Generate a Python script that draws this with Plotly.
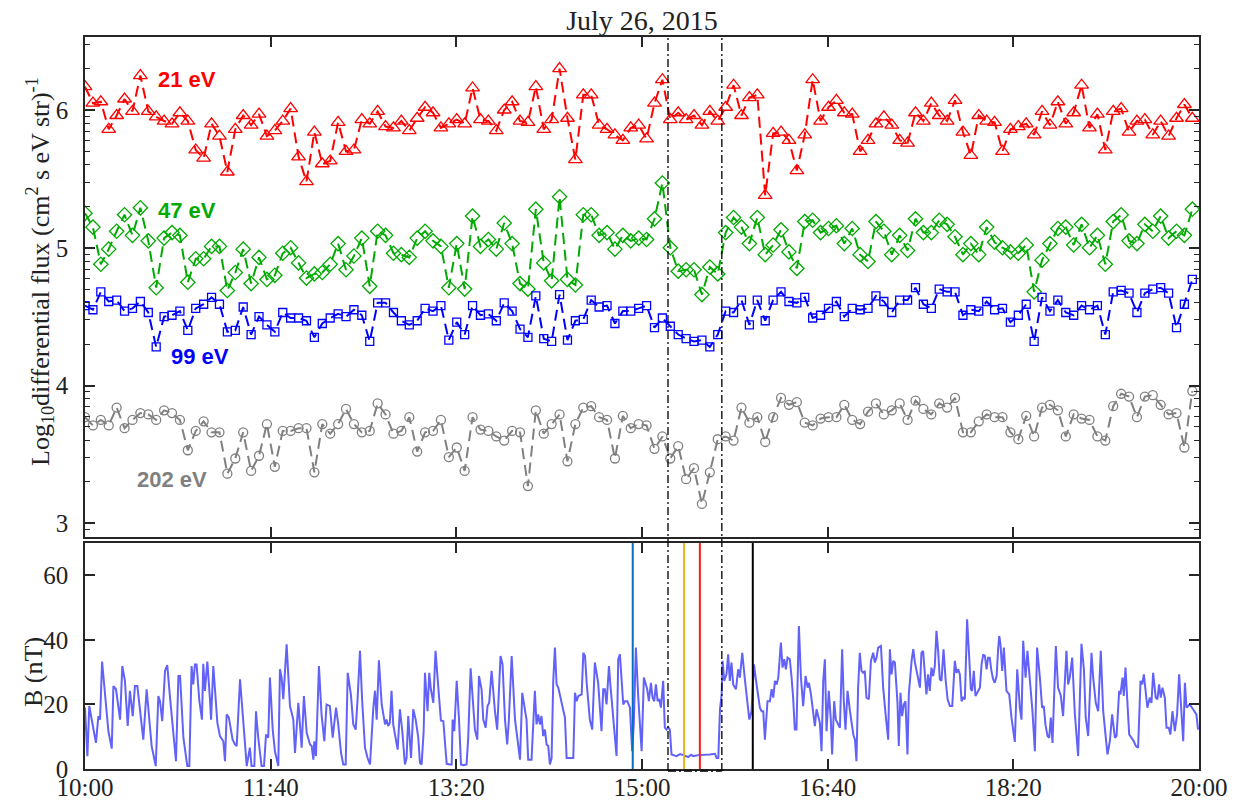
import numpy as np
import pandas as pd
import plotly.graph_objects as go
from plotly.subplots import make_subplots

DAY = "2015-07-26"
T0 = pd.Timestamp(f"{DAY} 10:00")

# ---------------- data ----------------
flux_step_min = 4.26  # sampling cadence of the electron spectra (minutes)

flux_21eV = [
    6.17, 6.05, 6.06, 5.86, 5.96, 6.08, 5.99, 6.25, 5.99, 5.95, 5.92, 5.90, 5.98, 5.92, 5.71, 5.65, 5.90, 5.81, 5.55, 5.86,
    5.96, 5.89, 5.97, 5.81, 5.85, 5.92, 6.01, 5.66, 5.48,
    5.84, 5.61, 5.63, 5.91, 5.70, 5.71, 5.93, 5.90, 5.99, 5.88, 5.87, 5.92, 5.85, 5.94, 6.02, 5.98, 5.87, 5.90, 5.93, 5.90,
    6.16, 5.93, 5.92, 5.85, 6.00, 6.06, 5.92, 5.91, 6.17,
    5.86, 5.93, 6.30, 5.94, 5.64, 6.11, 6.11, 5.89, 5.86, 5.82, 5.78, 5.87, 5.89, 5.79, 6.05, 6.22, 5.93, 5.98, 5.93, 5.96,
    5.89, 5.99, 5.92, 6.02, 6.18, 5.96, 6.09, 6.11,
    5.38, 5.83, 5.84, 5.78, 5.56, 5.82, 6.22, 5.92, 6.02, 6.07, 5.98, 5.97, 5.70, 5.78, 5.90, 5.95, 5.89, 5.78, 5.76, 5.98,
    5.92, 6.05, 5.96, 5.92, 6.07, 5.84, 5.67, 5.96,
    5.92, 5.91, 5.70, 5.86, 5.88, 5.90, 5.82, 5.99, 5.89, 6.06, 5.90, 5.98, 6.18, 5.87, 5.97, 5.71, 5.99, 6.01, 5.84, 5.92,
    5.93, 5.82, 5.92, 5.81, 5.94, 6.04, 5.94,
]
flux_47eV = [
    5.25, 5.15, 4.88, 4.99, 5.12, 5.24, 5.09, 5.29, 5.05, 4.71, 5.07, 5.11, 5.09, 4.75, 4.92, 4.92, 5.01, 5.01, 4.69, 4.82,
    4.99, 4.74, 4.93, 4.77, 4.80, 4.96, 5.00, 4.89, 4.78,
    4.81, 4.82, 4.88, 5.03, 4.84, 4.94, 5.07, 4.72, 5.12, 5.09, 4.96, 4.95, 4.93, 5.07, 5.12, 5.05, 5.01, 4.71, 5.03, 4.70,
    5.23, 5.01, 5.06, 4.99, 5.18, 5.03, 4.74, 4.70, 5.28,
    4.89, 4.76, 5.37, 4.77, 4.73, 5.24, 5.24, 5.09, 5.11, 4.99, 5.09, 5.05, 5.07, 5.06, 5.21, 5.47, 5.00, 4.83, 4.84, 4.84,
    4.66, 4.86, 4.81, 5.11, 5.22, 5.15, 5.03, 5.22,
    4.95, 5.02, 5.13, 4.97, 4.85, 5.19, 5.20, 5.11, 5.14, 5.16, 5.03, 5.14, 4.95, 4.90, 5.19, 5.12, 4.95, 5.09, 4.98, 5.21,
    5.11, 5.11, 5.20, 5.17, 5.08, 4.95, 5.03, 4.95,
    5.15, 5.04, 5.00, 4.97, 4.96, 5.02, 4.68, 4.91, 5.03, 5.14, 5.15, 5.02, 5.17, 5.00, 5.09, 4.88, 5.19, 5.24, 5.05, 5.03,
    5.17, 5.12, 5.23, 5.07, 5.12, 5.09, 5.28,
]
flux_99eV = [
    4.58, 4.55, 4.68, 4.61, 4.62, 4.54, 4.56, 4.61, 4.53, 4.28, 4.50, 4.51, 4.54, 4.40, 4.56, 4.59, 4.64, 4.59, 4.39, 4.40,
    4.57, 4.37, 4.50, 4.44, 4.39, 4.53, 4.49, 4.49, 4.47,
    4.35, 4.45, 4.49, 4.52, 4.50, 4.55, 4.51, 4.32, 4.60, 4.60, 4.53, 4.47, 4.44, 4.47, 4.56, 4.54, 4.58, 4.33, 4.46, 4.37,
    4.58, 4.51, 4.52, 4.47, 4.60, 4.54, 4.41, 4.35, 4.65,
    4.34, 4.32, 4.66, 4.33, 4.47, 4.48, 4.62, 4.57, 4.58, 4.45, 4.54, 4.54, 4.56, 4.58, 4.42, 4.49, 4.43, 4.37, 4.34, 4.32,
    4.33, 4.28, 4.37, 4.54, 4.53, 4.62, 4.44, 4.62,
    4.47, 4.62, 4.68, 4.61, 4.60, 4.64, 4.49, 4.51, 4.56, 4.61, 4.50, 4.56, 4.55, 4.56, 4.65, 4.61, 4.53, 4.62, 4.62, 4.71,
    4.59, 4.56, 4.70, 4.68, 4.68, 4.51, 4.55, 4.54,
    4.61, 4.55, 4.56, 4.46, 4.51, 4.59, 4.32, 4.64, 4.54, 4.62, 4.53, 4.51, 4.58, 4.55, 4.58, 4.37, 4.68, 4.69, 4.67, 4.53,
    4.67, 4.70, 4.71, 4.67, 4.42, 4.59, 4.77,
]
flux_202eV = [
    3.77, 3.71, 3.75, 3.71, 3.84, 3.69, 3.75, 3.80, 3.79, 3.75, 3.82, 3.80, 3.75, 3.53, 3.67, 3.74, 3.66, 3.66, 3.36, 3.47,
    3.66, 3.38, 3.49, 3.72, 3.41, 3.67, 3.67, 3.69, 3.69,
    3.37, 3.72, 3.65, 3.72, 3.83, 3.72, 3.66, 3.67, 3.87, 3.79, 3.65, 3.67, 3.77, 3.52, 3.66, 3.67, 3.75, 3.48, 3.55, 3.38,
    3.77, 3.68, 3.67, 3.63, 3.60, 3.67, 3.66, 3.27, 3.82,
    3.65, 3.72, 3.79, 3.45, 3.72, 3.84, 3.85, 3.77, 3.75, 3.47, 3.78, 3.69, 3.72, 3.71, 3.54, 3.63, 3.47, 3.56, 3.32, 3.40,
    3.14, 3.37, 3.61, 3.63, 3.60, 3.84, 3.73, 3.77,
    3.59, 3.77, 3.91, 3.86, 3.88, 3.73, 3.71, 3.76, 3.77, 3.77, 3.86, 3.75, 3.72, 3.81, 3.87, 3.79, 3.82, 3.87, 3.75, 3.89,
    3.83, 3.79, 3.87, 3.84, 3.91, 3.66, 3.66, 3.74,
    3.79, 3.77, 3.77, 3.66, 3.61, 3.78, 3.63, 3.84, 3.86, 3.82, 3.63, 3.79, 3.76, 3.75, 3.63, 3.60, 3.85, 3.94, 3.92, 3.77,
    3.92, 3.93, 3.86, 3.79, 3.80, 3.55, 3.96,
]

# magnetic field magnitude: (minutes after 10:00, B in nT)
b_samples = [
    (0.0, 19.0), (1.3, 4.0), (2.3, 19.5), (3.6, 15.3), (5.9, 8.1), (7.2, 16.4), (8.1, 15.3), (9.2, 33.3), (10.8, 22.1),
    (12.6, 11.7), (14.4, 6.3), (15.3, 25.7), (16.7, 24.7), (18.0, 17.9), (18.9, 15.3), (20.1, 31.9), (21.5, 27.3),
    (23.0, 13.3), (24.2, 24.2), (25.7, 16.4), (26.9, 25.7), (28.2, 25.7), (29.6, 19.0), (31.4, 9.1), (33.2, 24.7),
    (35.9, 7.1), (38.1, 0.9), (39.5, 22.6), (40.4, 21.0), (41.6, 14.8), (43.1, 30.4), (44.3, 32.2), (45.8, 22.1),
    (49.0, 2.4), (50.3, 28.8), (51.2, 28.8), (53.0, 9.7), (55.1, 0.9), (56.2, 0.9), (57.4, 31.9), (58.3, 26.2),
    (59.2, 32.4), (60.1, 32.4), (61.6, 21.0), (63.0, 15.3), (63.7, 32.6), (64.6, 24.2), (65.9, 33.3), (67.3, 21.6),
    (67.9, 15.3), (69.1, 31.9), (71.3, 14.3), (72.7, 10.2), (74.5, 8.6), (75.4, 2.4), (76.3, 16.9), (77.5, 15.9),
    (79.5, 9.1), (80.8, 7.6), (81.7, 7.1), (83.5, 27.8), (85.3, 12.8), (87.1, 0.9), (88.8, 6.6), (89.7, 0.9),
    (91.2, 0.9), (92.1, 17.9), (93.3, 9.7), (95.1, 0.9), (96.4, 0.9), (97.5, 10.7), (98.7, 9.7), (99.6, 28.3),
    (101.1, 12.2), (102.3, 5.5), (104.1, 0.9), (105.0, 30.9), (105.9, 28.3), (106.8, 21.6), (108.6, 38.6),
    (110.4, 19.5), (112.2, 15.3), (113.1, 5.0), (114.9, 20.5), (116.7, 6.6), (117.9, 22.6), (119.4, 11.2),
    (121.2, 7.6), (122.1, 7.1), (123.0, 2.9), (123.5, 8.6), (124.4, 4.0), (126.0, 31.9), (127.4, 16.9), (128.9, 8.6),
    (130.1, 20.0), (131.9, 19.5), (133.4, 9.7), (135.2, 19.0), (136.4, 13.8), (137.9, 5.0), (139.1, 1.4), (140.4, 1.4),
    (141.5, 29.8), (143.2, 23.1), (144.5, 13.8), (145.8, 12.2), (146.8, 21.6), (148.1, 36.6), (149.3, 21.0),
    (150.8, 6.6), (152.2, 3.4), (153.5, 1.4), (155.3, 19.0), (156.2, 24.2), (157.1, 15.3), (158.3, 33.7), (159.8, 20.0),
    (161.6, 13.8), (162.4, 15.3), (163.3, 13.3), (164.2, 14.3), (165.1, 24.2), (166.0, 13.8), (167.3, 9.1),
    (168.4, 6.0), (169.6, 18.5), (170.9, 11.7), (172.3, 1.4), (173.2, 3.4), (174.1, 16.4), (175.6, 3.4), (176.8, 18.5),
    (178.1, 15.3), (179.5, 9.7), (180.4, 1.9), (181.3, 1.4), (182.4, 11.7), (183.1, 29.8), (184.5, 17.9), (185.4, 29.8),
    (186.3, 24.7), (187.6, 20.5), (188.8, 36.6), (190.3, 25.2), (191.7, 15.0), (193.0, 14.8), (193.9, 8.6), (194.8, 1.6),
    (196.6, 1.4), (197.5, 1.4), (198.0, 15.3), (198.9, 11.7), (200.2, 27.3), (201.4, 15.9), (202.5, 1.4), (203.7, 1.2),
    (205.5, 1.4), (206.4, 9.7), (207.7, 31.2), (209.1, 17.9), (210.0, 12.2), (211.3, 9.1), (212.2, 28.8), (213.6, 24.7),
    (214.5, 15.3), (215.8, 12.8), (216.8, 19.5), (217.7, 20.5), (219.0, 30.4), (220.8, 17.9), (222.0, 12.2),
    (223.8, 35.0), (224.9, 32.4), (226.2, 15.3), (227.4, 7.6), (228.3, 15.3), (229.8, 35.0), (231.6, 15.3), (233.4, 7.1),
    (234.3, 2.9), (235.5, 23.6), (237.0, 18.5), (237.8, 15.3), (238.7, 2.9), (240.5, 2.9), (242.3, 24.2),
    (243.2, 13.8), (244.1, 16.9), (245.0, 13.8), (245.9, 16.4), (246.8, 10.2), (247.7, 12.2), (248.6, 7.6), (249.5, 7.1),
    (250.4, 1.4), (251.3, 3.4), (252.2, 27.3), (253.1, 37.6), (254.0, 26.2), (254.9, 25.2), (256.7, 20.0), (258.5, 15.9),
    (259.4, 3.4), (261.2, 3.4), (263.0, 3.4), (263.9, 23.6), (264.8, 21.0), (265.7, 22.6), (267.5, 23.1), (268.4, 36.0),
    (269.3, 35.0), (270.2, 26.7), (271.1, 20.0), (271.9, 15.3), (273.2, 12.2), (274.6, 33.0), (276.4, 26.7),
    (277.3, 17.9), (278.2, 11.7), (279.1, 24.7), (280.0, 24.7), (280.9, 20.0), (282.2, 31.9), (283.1, 25.2),
    (284.5, 15.9), (286.3, 4.0), (287.2, 34.0), (288.1, 35.5), (289.0, 27.8), (289.9, 20.0), (290.8, 21.0), (292.1, 21.0),
    (293.5, 19.0), (294.7, 5.5), (295.6, 14.3), (296.7, 37.6), (298.0, 22.1), (299.8, 5.5), (301.0, 28.3), (302.1, 26.2),
    (302.8, 24.7), (303.7, 21.0), (304.8, 26.7), (305.7, 22.1), (306.6, 21.0), (307.5, 26.2), (308.4, 21.0),
    (309.3, 21.6), (310.2, 19.0), (311.4, 27.3), (312.3, 12.8), (313.2, 12.2), (314.1, 13.0), (315.0, 12.2),
    (315.9, 4.5), (318.6, 4.0), (320.5, 4.6), (322.2, 4.3), (324.9, 3.7), (326.5, 4.4), (327.6, 4.0), (330.3, 4.3),
    (333.0, 4.3), (336.6, 4.5), (339.3, 4.7), (340.2, 3.4), (341.1, 3.4), (342.0, 18.5), (342.9, 23.1), (343.4, 33.5),
    (344.3, 27.3), (345.5, 29.3), (346.4, 35.5), (347.3, 27.3), (348.2, 33.0), (349.1, 26.2), (350.6, 24.7),
    (351.8, 30.9), (352.7, 28.3), (354.0, 36.0), (355.4, 27.8), (356.7, 21.0), (357.8, 15.3), (359.0, 17.9),
    (360.3, 32.4), (361.7, 26.2), (363.5, 19.0), (364.4, 17.9), (365.3, 17.9), (366.2, 9.1), (367.6, 21.0),
    (368.9, 21.0), (369.8, 24.7), (370.7, 22.1), (371.6, 27.3), (372.5, 26.2), (373.4, 28.3), (374.8, 39.2),
    (375.7, 31.4), (376.6, 34.0), (377.5, 30.9), (378.4, 34.5), (379.6, 34.0), (380.5, 28.8), (381.4, 22.1),
    (382.3, 12.2), (383.2, 12.2), (384.5, 44.3), (385.6, 28.3), (386.8, 19.5), (388.1, 28.8), (389.2, 25.2),
    (389.9, 26.7), (391.0, 23.1), (392.2, 17.9), (393.1, 13.3), (394.0, 18.5), (394.9, 15.9), (395.8, 14.3),
    (396.7, 5.5), (397.6, 27.3), (398.5, 34.0), (399.4, 11.7), (400.6, 24.2), (401.7, 15.3), (402.4, 4.5),
    (403.5, 21.0), (404.4, 15.3), (405.7, 13.8), (406.6, 12.8), (407.8, 37.1), (408.7, 21.0), (409.6, 12.2),
    (410.7, 24.2), (412.0, 17.9), (413.8, 10.7), (414.7, 9.1), (415.5, 2.4), (416.4, 25.2), (417.3, 36.0),
    (418.2, 30.4), (419.1, 29.8), (420.0, 30.4), (420.9, 22.1), (422.2, 21.6), (423.3, 33.5), (424.5, 36.0),
    (425.4, 33.0), (426.3, 34.5), (427.2, 37.6), (428.7, 38.1), (429.9, 25.2), (431.2, 16.9), (432.6, 9.1),
    (433.5, 37.1), (434.4, 29.3), (435.3, 33.5), (436.2, 33.0), (437.6, 20.5), (438.3, 7.1), (439.2, 23.6),
    (440.1, 16.4), (441.0, 20.0), (441.9, 21.0), (443.0, 4.5), (443.7, 23.1), (445.2, 33.5), (446.1, 37.1),
    (447.0, 33.0), (448.4, 29.3), (449.7, 25.2), (450.5, 36.0), (451.4, 36.6), (452.3, 29.8), (453.2, 23.1),
    (454.1, 29.3), (455.0, 24.2), (455.9, 31.4), (456.8, 28.8), (457.7, 31.9), (458.6, 42.8), (459.5, 36.6),
    (460.4, 27.8), (461.3, 27.3), (462.4, 37.1), (463.5, 27.8), (464.6, 21.6), (465.8, 19.5), (467.1, 19.5),
    (468.5, 33.5), (469.4, 29.8), (470.3, 30.9), (471.2, 29.3), (472.1, 21.0), (473.0, 22.1), (473.9, 21.6),
    (475.1, 46.4), (476.2, 35.0), (477.1, 24.7), (477.8, 24.2), (478.7, 30.4), (479.6, 22.6), (482.0, 25.2),
    (482.9, 32.4), (483.8, 35.5), (484.7, 35.0), (485.6, 30.9), (486.4, 34.5), (487.3, 34.5), (488.2, 30.4),
    (489.1, 27.8), (490.0, 26.7), (491.0, 28.8), (491.8, 37.1), (492.4, 41.2), (493.1, 38.6), (494.0, 30.4),
    (494.9, 37.6), (496.3, 24.2), (497.8, 23.1), (499.0, 15.9), (500.8, 8.4), (502.1, 30.9), (503.5, 19.0),
    (504.4, 15.3), (505.3, 39.7), (506.6, 28.3), (507.6, 36.6), (508.9, 28.3), (510.3, 17.9), (511.6, 5.5),
    (512.8, 37.6), (514.3, 28.3), (515.5, 19.0), (516.4, 19.5), (517.3, 13.8), (518.4, 10.2), (519.3, 9.7),
    (520.2, 15.9), (521.1, 8.1), (522.9, 38.1), (524.1, 25.2), (525.6, 22.6), (526.8, 16.4), (528.6, 36.6),
    (529.5, 26.2), (530.4, 28.3), (531.7, 34.5), (533.1, 17.4), (534.9, 4.0), (536.7, 38.8), (538.0, 30.9),
    (539.0, 15.9), (540.3, 10.2), (542.1, 36.0), (543.0, 28.3), (544.4, 20.5), (545.7, 17.9), (547.1, 36.6),
    (548.4, 17.9), (549.8, 9.7), (550.7, 4.5), (552.0, 8.6), (553.2, 16.9), (554.7, 9.7), (555.6, 10.2),
    (557.0, 24.2), (557.7, 23.1), (558.8, 28.3), (559.5, 22.6), (560.4, 31.4), (561.3, 23.6), (562.4, 10.7),
    (563.6, 9.7), (564.9, 8.6), (566.0, 7.1), (567.2, 6.6), (568.5, 27.3), (569.4, 26.2), (570.3, 29.3),
    (571.2, 23.1), (572.2, 19.0), (573.5, 22.1), (574.4, 20.5), (575.3, 29.8), (576.7, 22.1), (577.6, 21.6),
    (578.5, 26.2), (579.4, 22.1), (580.3, 25.2), (581.6, 22.1), (582.5, 12.8), (583.7, 12.8), (584.6, 10.7),
    (585.7, 17.9), (587.0, 11.7), (588.2, 16.9), (589.3, 29.3), (590.6, 16.9), (591.5, 8.6), (592.4, 26.7),
    (593.3, 19.0), (594.1, 19.5), (595.0, 20.0), (596.8, 18.5), (598.6, 16.9), (599.5, 12.2),
]

x_tick_labels = ["10:00", "11:40", "13:20", "15:00", "16:40", "18:20", "20:00"]
flux_ticks = [3, 4, 5, 6]
b_ticks = [0, 20, 40, 60]

cavity_bounds = ["15:14:00", "15:43:00"]
event_lines = [("14:55:00", "#0072BD"), ("15:22:40", "#EDB120"), ("15:31:10", "#FF1A1A"), ("15:59:40", "#000000")]

series = [
    ("21 eV", flux_21eV, "#FF0000", "triangle-up-open", 12, 54.9, 6.22),
    ("47 eV", flux_47eV, "#00AA00", "diamond-open", 11, 54.9, 5.27),
    ("99 eV", flux_99eV, "#0000FF", "square-open", 8, 62.0, 4.21),
    ("202 eV", flux_202eV, "#808080", "circle-open", 9, 46.8, 3.32),
]

flux_title = "Log<sub>10</sub>differential flux (cm<sup>2</sup> s eV str)<sup>-1</sup>"
b_title = "B (nT)"

# ---------------- figure ----------------
W, H = 1237, 806
ML, MR, MT, MB = 85, 38, 37, 37
PW, PH = W - ML - MR, H - MT - MB

n = len(flux_21eV)
assert all(len(s[1]) == n for s in series)
flux_times = T0 + pd.to_timedelta(np.arange(n) * flux_step_min, unit="min")
b_minutes = [m for m, _ in b_samples]
b_values = [v for _, v in b_samples]
b_times = T0 + pd.to_timedelta(b_minutes, unit="min")

fig = make_subplots(rows=2, cols=1, shared_xaxes=True)

for name, vals, color, sym, msize, lab_min, lab_y in series:
    fig.add_trace(go.Scatter(
        x=flux_times, y=vals, mode="lines+markers", name=name,
        line=dict(color=color, width=2, dash="11px,6px"),
        marker=dict(symbol=sym, size=msize, color=color, line=dict(color=color, width=1.3)),
    ), row=1, col=1)
    fig.add_annotation(x=T0 + pd.Timedelta(minutes=lab_min), y=lab_y, xref="x", yref="y",
                       text=f"<b>{name}</b>", showarrow=False,
                       font=dict(family="Liberation Sans", size=22, color=color))

fig.add_trace(go.Scatter(x=b_times, y=b_values, mode="lines",
                         line=dict(color="#6262F8", width=2)), row=2, col=1)

for tstr, color in event_lines:
    t = pd.Timestamp(f"{DAY} {tstr}")
    fig.add_shape(type="line", xref="x2", yref="y2", x0=t, x1=t, y0=0, y1=70,
                  line=dict(color=color, width=2))

c0 = pd.Timestamp(f"{DAY} {cavity_bounds[0]}")
c1 = pd.Timestamp(f"{DAY} {cavity_bounds[1]}")
dd = dict(color="black", width=1.3, dash="8px,3px,2px,3px")
ybot = -2.0 / PH
for c in (c0, c1):
    fig.add_shape(type="line", xref="x2", yref="paper", x0=c, x1=c, y0=ybot, y1=1.0, line=dd)
fig.add_shape(type="line", xref="x2", yref="paper", x0=c0, x1=c1, y0=ybot, y1=ybot, line=dd)

axis_col = "#262626"
tfont = dict(family="Liberation Serif", size=25, color="#222222")
common = dict(showline=True, linecolor=axis_col, linewidth=1.5, mirror="ticks", ticks="inside",
              ticklen=10, tickwidth=1.5, tickcolor=axis_col, showgrid=False, zeroline=False,
              tickfont=tfont, automargin=False)

xtickvals = [pd.Timestamp(f"{DAY} {lbl}") for lbl in x_tick_labels]
xrange = [pd.Timestamp(f"{DAY} 10:00"), pd.Timestamp(f"{DAY} 20:00")]

fig.update_xaxes(common, type="date", range=xrange, tickvals=xtickvals, ticktext=x_tick_labels,
                 ticklabelstandoff=-5)
fig.update_xaxes(showticklabels=False, row=1, col=1)

minor_vals = [d + np.log10(k) for d in range(2, 7) for k in range(2, 10) if 2.9 < d + np.log10(k) < 6.53]

fig.update_yaxes(common, ticklabelstandoff=10)
fig.update_yaxes(range=[2.9, 6.53], tickvals=flux_ticks, domain=[0.3169, 1.0],
                 minor=dict(tickmode="array", tickvals=minor_vals, ticks="inside", ticklen=5,
                            tickwidth=1.2, tickcolor=axis_col),
                 row=1, col=1)
fig.update_yaxes(range=[0, 70], tickvals=b_ticks, domain=[0.0, 0.3087], row=2, col=1)

lab_font = dict(family="Liberation Serif", size=26, color="#222222")
fig.add_annotation(text=flux_title, xref="paper", yref="paper", x=(40 - ML) / PW, y=(H - MB - 272) / PH,
                   textangle=-90, showarrow=False, font=lab_font, xanchor="center", yanchor="middle")
fig.add_annotation(text=b_title, xref="paper", yref="paper", x=(33 - ML) / PW, y=(H - MB - 672) / PH,
                   textangle=-90, showarrow=False, font=lab_font, xanchor="center", yanchor="middle")

fig.update_layout(
    width=W, height=H,
    margin=dict(l=ML, r=MR, t=MT, b=MB),
    plot_bgcolor="white", paper_bgcolor="white",
    showlegend=False,
    title=dict(text="July 26, 2015", x=0.5, xref="paper", xanchor="center",
               y=1 - 20 / H, yanchor="middle",
               font=dict(family="Liberation Serif", size=28, color="#222222")),
)

fig.write_html("out.html")
